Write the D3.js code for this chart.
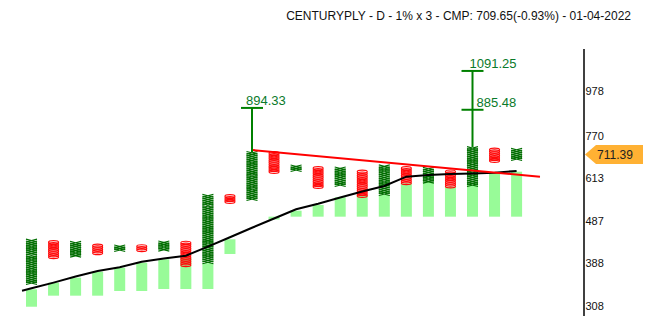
<!DOCTYPE html>
<html><head><meta charset="utf-8">
<script src="https://cdn.jsdelivr.net/npm/d3@7/dist/d3.min.js"></script>
<style>
body{margin:0;background:#fff;}
svg{display:block;font-family:"Liberation Sans",Arial,sans-serif;}
</style>
</head><body>
<svg id="chart" width="656" height="316"></svg>
<script>
// ---------- DATA ----------
const title = "CENTURYPLY - D - 1% x 3 - CMP: 709.65(-0.93%) - 01-04-2022";
const boxPct = 0.01;
const colTypes = ["X","O","X","O","X","O","X","O","X","O","X","O","X","O","X","O","X","O","X","O","X","O","X"];
const colLow  = [346.7,398.8,401.6,407.5,414.1,414.1,414.8,382.0,387.6,537.0,544.9,631.2,637.0,582.2,587.6,554.7,559.8,593.9,598.1,583.5,587.6,669.6,675.8];
const colHigh = [435.9,431.8,430.6,424.0,422.4,422.4,431.6,430.4,554.6,553.3,698.8,697.2,649.8,643.1,642.6,631.3,649.9,643.1,641.2,631.8,717.0,710.8,710.3];
const barLow  = [306.8,325.6,325.6,325.6,333.9,333.9,337.5,337.5,337.5,407.5,null,490.6,498.1,498.1,498.1,498.1,498.1,498.1,498.1,498.1,498.1,498.1,498.1];
const barHigh = [337.0,349.1,358.7,370.4,378.5,388.8,396.0,399.0,387.6,441.0,null,498.1,514.4,530.4,552.9,560.0,559.8,596.2,601.3,585.4,590.7,629.1,634.6];
const maIndex  = [-0.43,0,1,2,3,4,5,6,7,8,9,10,11,12,13,14,15,16,17,18,19,20,21,22];
const maValues = [334.4,338.8,349.3,361.0,371.9,379.3,390.9,397.7,403.8,423.8,445.8,469.2,493.3,518.3,533.9,552.0,570.5,587.6,617.7,623.7,626.8,628.4,630.8,637.3];
const trendIndex  = [10, 23.06];
const trendValues = [713.2, 617.7];
const targetCols   = [10, 20];
const targetValues = [[894.33],[885.48,1091.25]];
const lastPrice = 711.39;
const yTicks = [308,388,487,613,770,978];

// ---------- SCALES ----------
const svg = d3.select("#chart");
const x = d3.scaleLinear().domain([0,22]).range([31.5,516.6]);
const y = d3.scaleLog().domain([308,978]).range([306,91.3]);
const halfW = 5.5;

// ---------- FLOATING BARS ----------
const bars = colTypes.map((t,i)=>({i,lo:barLow[i],hi:barHigh[i]})).filter(d=>d.lo!=null);
svg.append("g").selectAll("rect").data(bars).join("rect")
  .attr("x",d=>x(d.i)-halfW).attr("width",halfW*2)
  .attr("y",d=>y(d.hi)).attr("height",d=>y(d.lo)-y(d.hi))
  .attr("fill","#98fb98");

// ---------- P&F COLUMNS ----------
const gCols = svg.append("g");
colTypes.forEach((t,i)=>{
  const n = Math.round(Math.log(colHigh[i]/colLow[i])/Math.log(1+boxPct))+1;
  const boxes = d3.range(n).map(k=>colLow[i]*Math.pow(1+boxPct,k));
  const cx = x(i);
  const g = gCols.append("g");
  boxes.forEach(v=>{
    const ym = (y(v)+y(v*(1+boxPct)))/2;
    if(t==="X"){
      g.append("path")
        .attr("d",`M${cx-halfW},${ym-1.4}L${cx+halfW},${ym+1.4}M${cx-halfW},${ym+1.4}L${cx+halfW},${ym-1.4}`)
        .attr("stroke","#006e00").attr("stroke-width",1.15).attr("fill","none");
    } else {
      g.append("ellipse").attr("cx",cx).attr("cy",ym).attr("rx",halfW-0.5).attr("ry",1.6)
        .attr("stroke","#ff0a0a").attr("stroke-width",1.15).attr("fill","none");
    }
  });
});

// ---------- MOVING AVERAGE ----------
const maPts = maIndex.map((d,i)=>[d,maValues[i]]);
svg.append("path").datum(maPts)
  .attr("d",d3.line().x(d=>x(d[0])).y(d=>y(d[1])))
  .attr("fill","none").attr("stroke","#000").attr("stroke-width",2);

// ---------- TRENDLINE ----------
svg.append("line")
  .attr("x1",x(trendIndex[0])).attr("y1",y(trendValues[0]))
  .attr("x2",x(trendIndex[1])).attr("y2",y(trendValues[1]))
  .attr("stroke","#ff0000").attr("stroke-width",2);

// ---------- TARGETS ----------
const labelDx = [[-6],[4,-3]];
targetCols.forEach((c,j)=>{
  const cx = x(c);
  const top = y(colHigh[c]*(1+boxPct));
  const maxT = d3.max(targetValues[j]);
  svg.append("line").attr("x1",cx).attr("x2",cx).attr("y1",top).attr("y2",y(maxT))
    .attr("stroke","#008000").attr("stroke-width",2);
  targetValues[j].forEach((v,k)=>{
    svg.append("line").attr("x1",cx-11).attr("x2",cx+11).attr("y1",y(v)).attr("y2",y(v))
      .attr("stroke","#008000").attr("stroke-width",2);
    svg.append("text").attr("x",cx+labelDx[j][k]).attr("y",y(v)-2.7)
      .attr("font-size",13).attr("fill","#0a7a2a").text(d3.format(".2f")(v));
  });
});

// ---------- AXIS ----------
svg.append("line").attr("x1",584).attr("x2",584).attr("y1",49).attr("y2",316)
  .attr("stroke","#000").attr("stroke-width",1.5);
svg.append("g").selectAll("text").data(yTicks).join("text")
  .attr("x",585.5).attr("y",d=>y(d)).attr("dy","0.35em")
  .attr("font-size",11).attr("fill","#111").text(d=>d);

// ---------- LAST PRICE TAG ----------
const ty = y(lastPrice)+4;
svg.append("path")
  .attr("d",`M585,${ty}L596,${ty-9.5}L643,${ty-9.5}L643,${ty+9.5}L596,${ty+9.5}Z`)
  .attr("fill","#ffb133");
svg.append("text").attr("x",597).attr("y",ty).attr("dy","0.35em")
  .attr("font-size",12).attr("fill","#222").text(d3.format(".2f")(lastPrice));

// ---------- TITLE ----------
svg.append("text").attr("x",631).attr("y",19.5).attr("text-anchor","end")
  .attr("font-size",12).attr("fill","#111").text(title);
</script>
</body></html>
